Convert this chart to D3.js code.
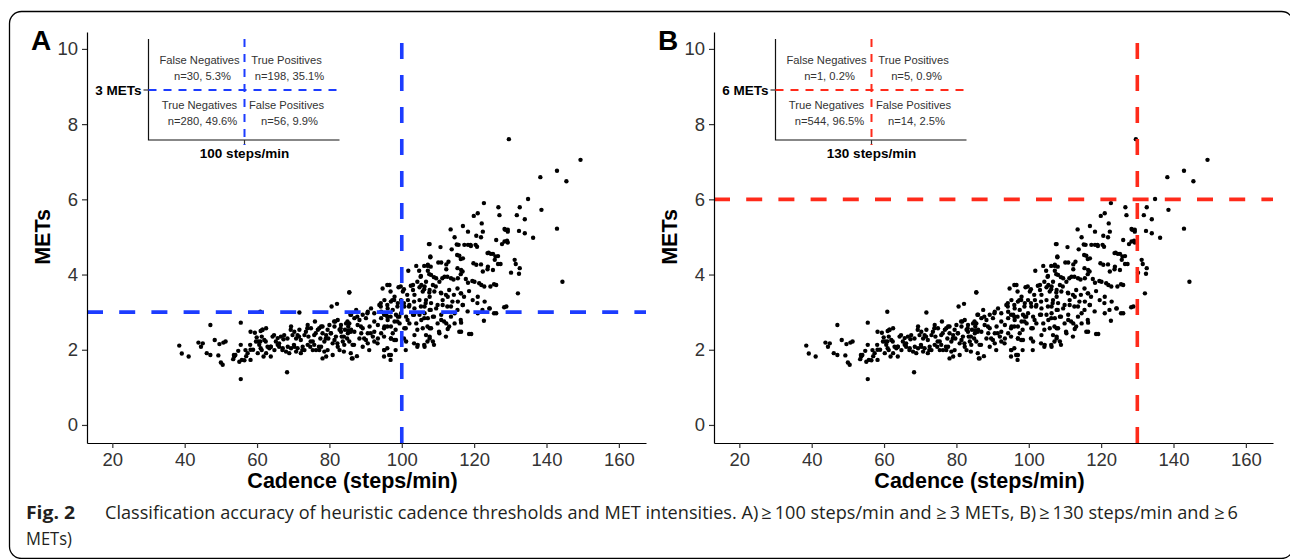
<!DOCTYPE html>
<html>
<head>
<meta charset="utf-8">
<script src="https://cdn.jsdelivr.net/npm/d3@7"></script>
<style>
  body { margin: 0; background: #fff; }
  svg { display: block; }
</style>
</head>
<body>
<script>
// cadence (steps/min), METs
const points = [
  [38.5,2.11],[39.2,1.90],[41.1,1.82],[47.1,2.66],[43.8,2.19],[45.0,2.17],[44.5,2.08],[46.1,1.91],
  [47.1,1.86],[48.3,2.26],[49.6,2.15],[50.7,2.19],[51.3,2.22],[49.3,1.85],[50.0,1.66],[50.5,1.60],
  [55.5,2.72],[55.5,2.13],[54.8,1.97],[53.7,1.82],[54.0,1.86],[53.4,1.75],[55.5,1.22],[55.1,1.68],
  [55.8,1.73],[56.5,1.72],[57.4,1.91],[57.0,1.83],[58.1,2.13],[58.2,2.00],[58.9,2.00],[59.4,2.45],
  [60.3,2.22],[59.7,2.22],[60.9,3.01],[60.2,1.91],[61.0,2.04],[61.0,2.50],
  [61.5,2.53],[62.5,2.57],[61.3,2.35],[62.0,2.26],[60.6,2.13],[62.9,2.08],[61.3,1.99],[62.5,1.91],
  [63.8,2.08],[64.3,2.35],[64.8,1.99],[63.8,1.82],[65.7,2.31],[66.1,2.08],[66.6,2.35],[67.3,2.28],
  [67.5,2.39],[68.0,1.95],[68.5,2.08],[68.9,1.91],[69.4,2.62],[69.8,2.39],[70.3,2.48],[70.8,2.30],
  [70.8,1.95],[71.2,2.39],[71.7,2.53],[72.1,2.26],[72.1,1.91],[73.1,2.39],[73.5,2.48],[74.0,2.66],
  [74.2,2.35],[74.9,2.57],[74.7,2.08],[75.4,2.22],[75.8,2.13],[76.0,2.75],[76.3,1.99],[76.8,2.53],
  [77.2,2.57],[77.5,2.30],[77.7,2.08],[78.1,2.44],[78.6,2.22],[78.6,1.95],[79.1,1.82],[79.5,2.53],
  [79.7,2.30],[80.0,2.66],[80.4,2.44],[80.9,2.17],[81.4,2.62],[81.6,2.75],[81.8,2.35],[82.3,2.79],
  [82.3,2.08],[82.8,2.53],[83.2,2.66],[83.4,2.35],[83.7,2.22],[84.0,1.95],[84.3,2.53],[84.6,2.70],
  [85.1,2.44],[85.2,2.62],[86.0,2.53],[86.2,1.77],[85.5,2.22],[74.0,2.13],[72.6,2.08],[70.3,2.08],
  [65.7,2.13],[63.4,2.04],[61.8,1.82],[80.9,1.86],[82.8,1.99],[78.1,1.77],[85.5,3.53],[71.7,2.99],
  [80.6,3.15],[82.1,3.22],[68.3,1.40],[85.8,2.93],[65.2,2.22],[67.1,2.04],[69.4,2.04],[71.2,2.04],
  [73.1,1.99],[75.4,1.99],[77.2,1.99],[79.5,1.99],[75.8,2.39],[77.7,2.62],[79.1,2.39],[81.4,2.26],
  [83.2,2.48],[84.1,2.13],[84.9,2.30],[60.9,2.22],
  [58.2,2.48],[59.9,2.33],[61.5,2.53],[62.4,2.22],[63.8,2.08],[64.7,2.39],[66.1,2.17],[67.0,1.99],
  [68.4,2.30],[69.3,2.53],[70.2,2.13],[71.6,2.35],[72.5,1.99],[73.9,2.57],[74.8,2.22],[76.2,2.44],
  [77.1,2.08],[78.1,2.62],[79.0,2.30],[80.4,2.44],[81.3,2.75],[82.2,2.17],[83.1,2.57],[84.0,2.35],
  [85.0,2.75],[85.9,2.48],[86.8,2.13],[87.7,2.88],[88.7,2.62],[89.6,2.30],[90.5,2.97],[91.4,2.44],
  [92.4,2.75],[93.3,2.17],[94.2,3.15],[95.1,2.57],[96.0,2.88],[97.0,2.30],[97.9,3.32],[98.8,2.75],
  [85.9,1.91],[91.0,1.99],[95.1,1.99],[96.5,1.86],[53.6,1.86],[56.8,1.99],[58.2,1.73],
  [107.5,4.81],[107.9,4.46],[101.8,4.10],[104.0,4.23],[107.2,4.10],[105.2,3.94],[106.7,3.81],[96.6,3.72],
  [103.1,3.72],[104.9,3.66],[99.1,3.66],[100.3,3.55],[101.5,3.46],[85.5,3.52],[96.9,3.55],[103.5,3.46],
  [105.8,3.55],[107.7,3.41],[104.9,3.32],[95.2,3.32],[93.8,3.19],[97.0,3.28],[98.9,3.24],[100.7,3.15],
  [102.1,3.19],[103.5,3.10],[106.3,3.15],[107.7,3.06],[91.5,3.10],[92.4,2.97],[87.4,3.06],[89.2,2.93],
  [90.6,3.01],[94.3,3.01],[95.7,2.93],[97.5,3.06],[98.4,2.93],[99.8,2.97],[101.2,2.88],[103.1,2.93],
  [104.9,2.93],[106.3,2.97],[107.2,2.84],[86.0,2.93],[86.9,2.84],[88.3,2.79],[90.1,2.84],[96.1,2.79],
  [98.0,2.75],[99.4,2.70],[102.1,2.70],[85.5,2.70],[87.8,2.66],[89.2,2.57],[91.1,2.62],[93.4,2.66],
  [95.2,2.62],[97.0,2.62],[100.7,2.57],[105.8,2.57],[107.7,2.57],[86.9,2.48],[88.8,2.44],[90.6,2.44],
  [92.4,2.48],[94.3,2.44],[97.5,2.44],[103.5,2.39],[106.7,2.39],[88.3,2.30],[90.1,2.26],[92.0,2.35],
  [93.4,2.30],[97.0,2.30],[98.4,2.26],[107.7,2.30],[89.2,2.08],[90.6,2.17],[92.4,2.22],[86.4,2.13],
  [101.2,2.22],[104.4,2.13],[106.3,2.08],[95.2,1.99],[97.0,1.86],[86.4,1.77],[87.6,1.83],[85.2,2.51],
  [98.9,2.88],[104.0,2.70],[105.4,2.79],[94.3,2.84],[96.1,3.10],[98.0,3.41],[99.8,3.32],[101.7,3.32],
  [106.7,3.32],[103.1,3.59],[106.3,3.68],[107.2,4.26],[105.4,3.72],
  [96.0,3.72],[94.7,3.63],[99.7,3.68],[100.6,3.61],[102.5,3.70],[104.3,3.81],[106.2,3.61],[107.6,3.52],
  [109.4,3.68],[110.8,3.52],[112.2,3.46],[113.1,3.59],[115.4,3.63],[116.3,3.50],[117.2,3.41],[118.6,3.56],
  [120.9,3.24],[122.3,3.06],[124.2,3.10],[125.5,2.97],[128.3,3.13],[94.2,3.24],[96.0,3.19],[97.4,3.32],
  [98.8,3.15],[100.6,3.24],[102.0,3.15],[103.4,3.28],[105.3,3.15],[106.6,3.24],[108.0,3.06],[109.9,3.19],
  [111.3,3.32],[112.6,3.15],[114.0,3.28],[115.4,3.06],[116.8,3.19],[118.2,3.02],[95.1,2.93],[96.9,2.88],
  [99.3,2.88],[101.6,2.79],[103.4,2.93],[106.2,2.84],[108.9,2.88],[111.7,2.75],[113.6,2.88],[116.3,2.79],
  [96.0,2.62],[98.3,2.53],[101.1,2.57],[104.3,2.53],[107.1,2.62],[110.3,2.48],[113.1,2.62],[115.9,2.48],
  [118.6,2.42],[95.1,2.35],[97.9,2.26],[100.6,2.30],[103.4,2.17],[107.1,2.22],[108.9,2.13],[112.2,2.35],
  [96.0,2.04],[98.3,1.99],[101.1,1.99],[104.3,2.08],[106.2,2.13],[95.1,1.82],[96.9,1.73],
  [115.2,4.80],[118.3,4.79],[119.1,4.76],[120.4,4.79],[115.9,4.50],[116.3,4.41],[123.7,4.57],[124.6,4.55],
  [125.9,4.48],[126.6,4.28],[125.7,4.39],[110.1,4.32],[112.3,4.27],[119.8,4.30],[121.9,4.27],[106.2,4.23],
  [108.0,4.21],[130.2,4.05],[123.7,4.14],[125.5,3.74],[115.4,4.17],[116.8,4.08],[104.8,4.10],[105.3,3.96],
  [107.6,4.01],[108.9,3.93],[111.2,3.90],[112.6,3.94],[114.3,3.87],[116.3,4.01],[117.7,3.88],[119.5,3.83],
  [121.4,3.77],[122.8,3.68],
  [122.7,5.90],[126.7,5.79],[127.0,5.58],[121.0,5.63],[119.9,5.56],[122.1,5.36],[116.9,5.29],[113.5,5.20],
  [122.4,5.14],[128.6,5.19],[129.3,5.14],[118.3,5.14],[120.6,5.03],[121.9,4.99],[114.6,4.99],[126.1,4.92],
  [129.1,4.90],[127.7,4.81],[115.7,4.79],[117.3,4.79],[119.0,4.79],[120.8,4.74],[110.7,4.73],[107.7,4.81],
  [113.8,4.67],[115.3,4.52],[124.0,4.58],[125.2,4.55],[126.6,4.49],[107.9,4.48],[116.9,4.43],[110.9,4.32],
  [112.9,4.34],[127.3,4.28],[123.8,4.21],[120.6,4.26],[107.2,4.23],[112.3,4.14],[116.4,4.12],[122.4,4.08],
  [125.2,4.12],[108.1,3.99],[109.5,3.90],[111.8,3.94],[115.5,3.90],[120.1,3.81],[122.0,3.72],[124.5,3.68],
  [126.1,3.72],[108.6,3.72],[110.4,3.81],[113.6,3.90],[118.3,3.78],[107.7,3.59],[109.0,3.55],[110.9,3.50],
  [112.7,3.41],[114.4,3.46],[116.4,3.50],[121.0,3.41],[115.5,3.28],[116.9,3.19],[119.6,3.32],[122.9,3.28],
  [124.3,3.10],[126.1,2.97],[128.9,3.15],[121.0,2.97],[122.7,2.77],[108.1,3.24],[109.5,3.10],[111.3,3.19],
  [113.6,3.15],[110.9,2.93],[114.6,2.97],[108.6,2.88],[109.9,2.70],[112.3,2.70],[114.6,2.70],[116.4,2.72],
  [116.4,2.48],[119.2,2.42],[112.7,2.55],[110.4,2.44],[108.1,2.57],[107.7,2.35],[108.6,2.22],[110.9,2.79],
  [129.6,7.60],[149.4,7.05],[142.9,6.76],[138.3,6.59],[145.5,6.48],[134.9,6.01],[132.6,5.79],[138.6,5.72],
  [131.8,5.58],[134.0,5.47],[128.4,5.21],[129.3,5.19],[132.4,5.16],[134.0,5.10],[136.3,4.98],[142.9,5.22],
  [128.4,4.88],[129.3,4.85],[131.2,4.39],[131.5,4.28],[132.6,4.17],[132.4,4.02],[144.4,3.81],[132.1,3.50]
];

const xTicks = [20, 40, 60, 80, 100, 120, 140, 160];
const yTicks = [0, 2, 4, 6, 8, 10];

const panelLetters = ['A', 'B'];
const cadenceCuts = [100, 130];
const metCuts = [3, 6];
const cutColors = ['#1c3cff', '#ff2a1a'];
const quadrantNames = ['False Negatives', 'True Positives', 'True Negatives', 'False Positives'];
const quadrantCounts = [
  ['n=30, 5.3%', 'n=198, 35.1%', 'n=280, 49.6%', 'n=56, 9.9%'],
  ['n=1, 0.2%', 'n=5, 0.9%', 'n=544, 96.5%', 'n=14, 2.5%']
];

const W = 1290, H = 559;
const svg = d3.select('body').append('svg').attr('width', W).attr('height', H);

// frame round the figure
svg.append('rect')
  .attr('x', 9.5).attr('y', 11.5)
  .attr('width', 1284).attr('height', 547)
  .attr('rx', 12).attr('ry', 12)
  .attr('fill', 'none').attr('stroke', '#000').attr('stroke-width', 1.3);

const axisFont = 'Liberation Sans, Arial, sans-serif';
const panelLeft = [87, 714];
const panelWidth = 559;
const plotTop = 32, plotBottom = 443;

var y = d3.scaleLinear().domain([-0.48, 10.45]).range([plotBottom, plotTop]);

panelLetters.forEach(function (letter, i) {
  var left = panelLeft[i];
  var x = d3.scaleLinear().domain([13, 167.5]).range([left, left + panelWidth]);
  var g = svg.append('g');

  // points
  g.append('g').selectAll('circle').data(points).enter()
    .append('circle')
    .attr('cx', function (d) { return x(d[0]); })
    .attr('cy', function (d) { return y(d[1]); })
    .attr('r', 2.2)
    .attr('fill', '#000');

  // threshold lines
  g.append('line')
    .attr('x1', x(cadenceCuts[i])).attr('x2', x(cadenceCuts[i]))
    .attr('y1', plotBottom).attr('y2', plotTop)
    .attr('stroke', cutColors[i]).attr('stroke-width', 3.6)
    .attr('stroke-dasharray', '16,16');
  g.append('line')
    .attr('x1', left).attr('x2', left + panelWidth)
    .attr('y1', y(metCuts[i])).attr('y2', y(metCuts[i]))
    .attr('stroke', cutColors[i]).attr('stroke-width', 3.6)
    .attr('stroke-dasharray', '16,16.2');

  // axes
  var xAxis = g.append('g')
    .attr('transform', 'translate(0,' + plotBottom + ')')
    .call(d3.axisBottom(x).tickValues(xTicks).tickSize(5).tickSizeOuter(0).tickPadding(5));
  var yAxis = g.append('g')
    .attr('transform', 'translate(' + left + ',0)')
    .call(d3.axisLeft(y).tickValues(yTicks).tickSize(5).tickSizeOuter(0).tickPadding(4));
  [xAxis, yAxis].forEach(function (a) {
    a.select('.domain').attr('stroke', '#000').attr('stroke-width', 1.2);
    a.selectAll('.tick line').attr('stroke', '#333').attr('stroke-width', 1.2);
    a.selectAll('.tick text')
      .attr('fill', '#333')
      .style('font-family', axisFont)
      .style('font-size', '18.5px');
  });

  // axis titles
  g.append('text')
    .attr('x', left + panelWidth / 2 - 14).attr('y', 488)
    .attr('text-anchor', 'middle')
    .style('font-family', axisFont).style('font-weight', 'bold').style('font-size', '21.5px')
    .text('Cadence (steps/min)');
  g.append('text')
    .attr('transform', 'translate(' + (left - 37) + ',' + y(5) + ') rotate(-90)')
    .attr('text-anchor', 'middle')
    .style('font-family', axisFont).style('font-weight', 'bold').style('font-size', '21.5px')
    .text('METs');

  // panel letter
  g.append('text')
    .attr('x', left - 56).attr('y', 50)
    .style('font-family', axisFont).style('font-weight', 'bold').style('font-size', '28px')
    .text(letter);

  // inset classification box
  var ix = left + 61.5, iTop = 39, iMid = 90, iBot = 140;
  var iDiv = ix + 96, iRight = ix + 191;
  var inset = g.append('g');
  inset.append('path')
    .attr('d', 'M' + ix + ',' + iTop + 'V' + iBot + 'H' + iRight)
    .attr('fill', 'none').attr('stroke', '#111').attr('stroke-width', 1.2);
  inset.append('line')
    .attr('x1', ix - 5).attr('x2', ix).attr('y1', iMid).attr('y2', iMid)
    .attr('stroke', '#333').attr('stroke-width', 1.2);
  inset.append('line')
    .attr('x1', iDiv).attr('x2', iDiv).attr('y1', iBot).attr('y2', iBot + 5)
    .attr('stroke', '#333').attr('stroke-width', 1.2);
  inset.append('line')
    .attr('x1', ix).attr('x2', iRight).attr('y1', iMid).attr('y2', iMid)
    .attr('stroke', cutColors[i]).attr('stroke-width', 2)
    .attr('stroke-dasharray', '8,7');
  inset.append('line')
    .attr('x1', iDiv).attr('x2', iDiv).attr('y1', iTop).attr('y2', iBot + 5)
    .attr('stroke', cutColors[i]).attr('stroke-width', 2)
    .attr('stroke-dasharray', '8,7');
  inset.append('text')
    .attr('x', ix - 7).attr('y', iMid + 5)
    .attr('text-anchor', 'end')
    .style('font-family', axisFont).style('font-weight', 'bold').style('font-size', '13.5px')
    .text(metCuts[i] + ' METs');
  inset.append('text')
    .attr('x', iDiv).attr('y', iBot + 18)
    .attr('text-anchor', 'middle')
    .style('font-family', axisFont).style('font-weight', 'bold').style('font-size', '13.5px')
    .text(cadenceCuts[i] + ' steps/min');

  var qx = [ix + 51, ix + 138, ix + 51, ix + 138];
  var qy = [64, 64, 109, 109];
  quadrantNames.forEach(function (name, q) {
    inset.append('text')
      .attr('x', qx[q]).attr('y', qy[q])
      .attr('text-anchor', 'middle').attr('fill', '#333')
      .style('font-family', axisFont).style('font-size', '11.2px')
      .text(name);
    inset.append('text')
      .attr('x', qx[q] + 3).attr('y', qy[q] + 16)
      .attr('text-anchor', 'middle').attr('fill', '#333')
      .style('font-family', axisFont).style('font-size', '11.2px')
      .text(quadrantCounts[i][q]);
  });
});

// caption
const captionFont = 'Open Sans, Noto Sans, sans-serif';
svg.append('text')
  .attr('x', 26).attr('y', 519)
  .attr('textLength', 49).attr('lengthAdjust', 'spacingAndGlyphs')
  .style('font-family', captionFont).style('font-weight', 'bold').style('font-size', '18px')
  .attr('fill', '#231f20')
  .text('Fig. 2');
svg.append('text')
  .attr('x', 105).attr('y', 519)
  .attr('textLength', 1133).attr('lengthAdjust', 'spacingAndGlyphs')
  .style('font-family', captionFont).style('font-size', '18px')
  .attr('fill', '#231f20')
  .text('Classification accuracy of heuristic cadence thresholds and MET intensities. A)\u2009\u2265\u2009100 steps/min and \u2265\u20093 METs, B)\u2009\u2265\u2009130 steps/min and \u2265\u20096');
svg.append('text')
  .attr('x', 26).attr('y', 545)
  .attr('textLength', 46).attr('lengthAdjust', 'spacingAndGlyphs')
  .style('font-family', captionFont).style('font-size', '18px')
  .attr('fill', '#231f20')
  .text('METs)');
</script>
</body>
</html>
